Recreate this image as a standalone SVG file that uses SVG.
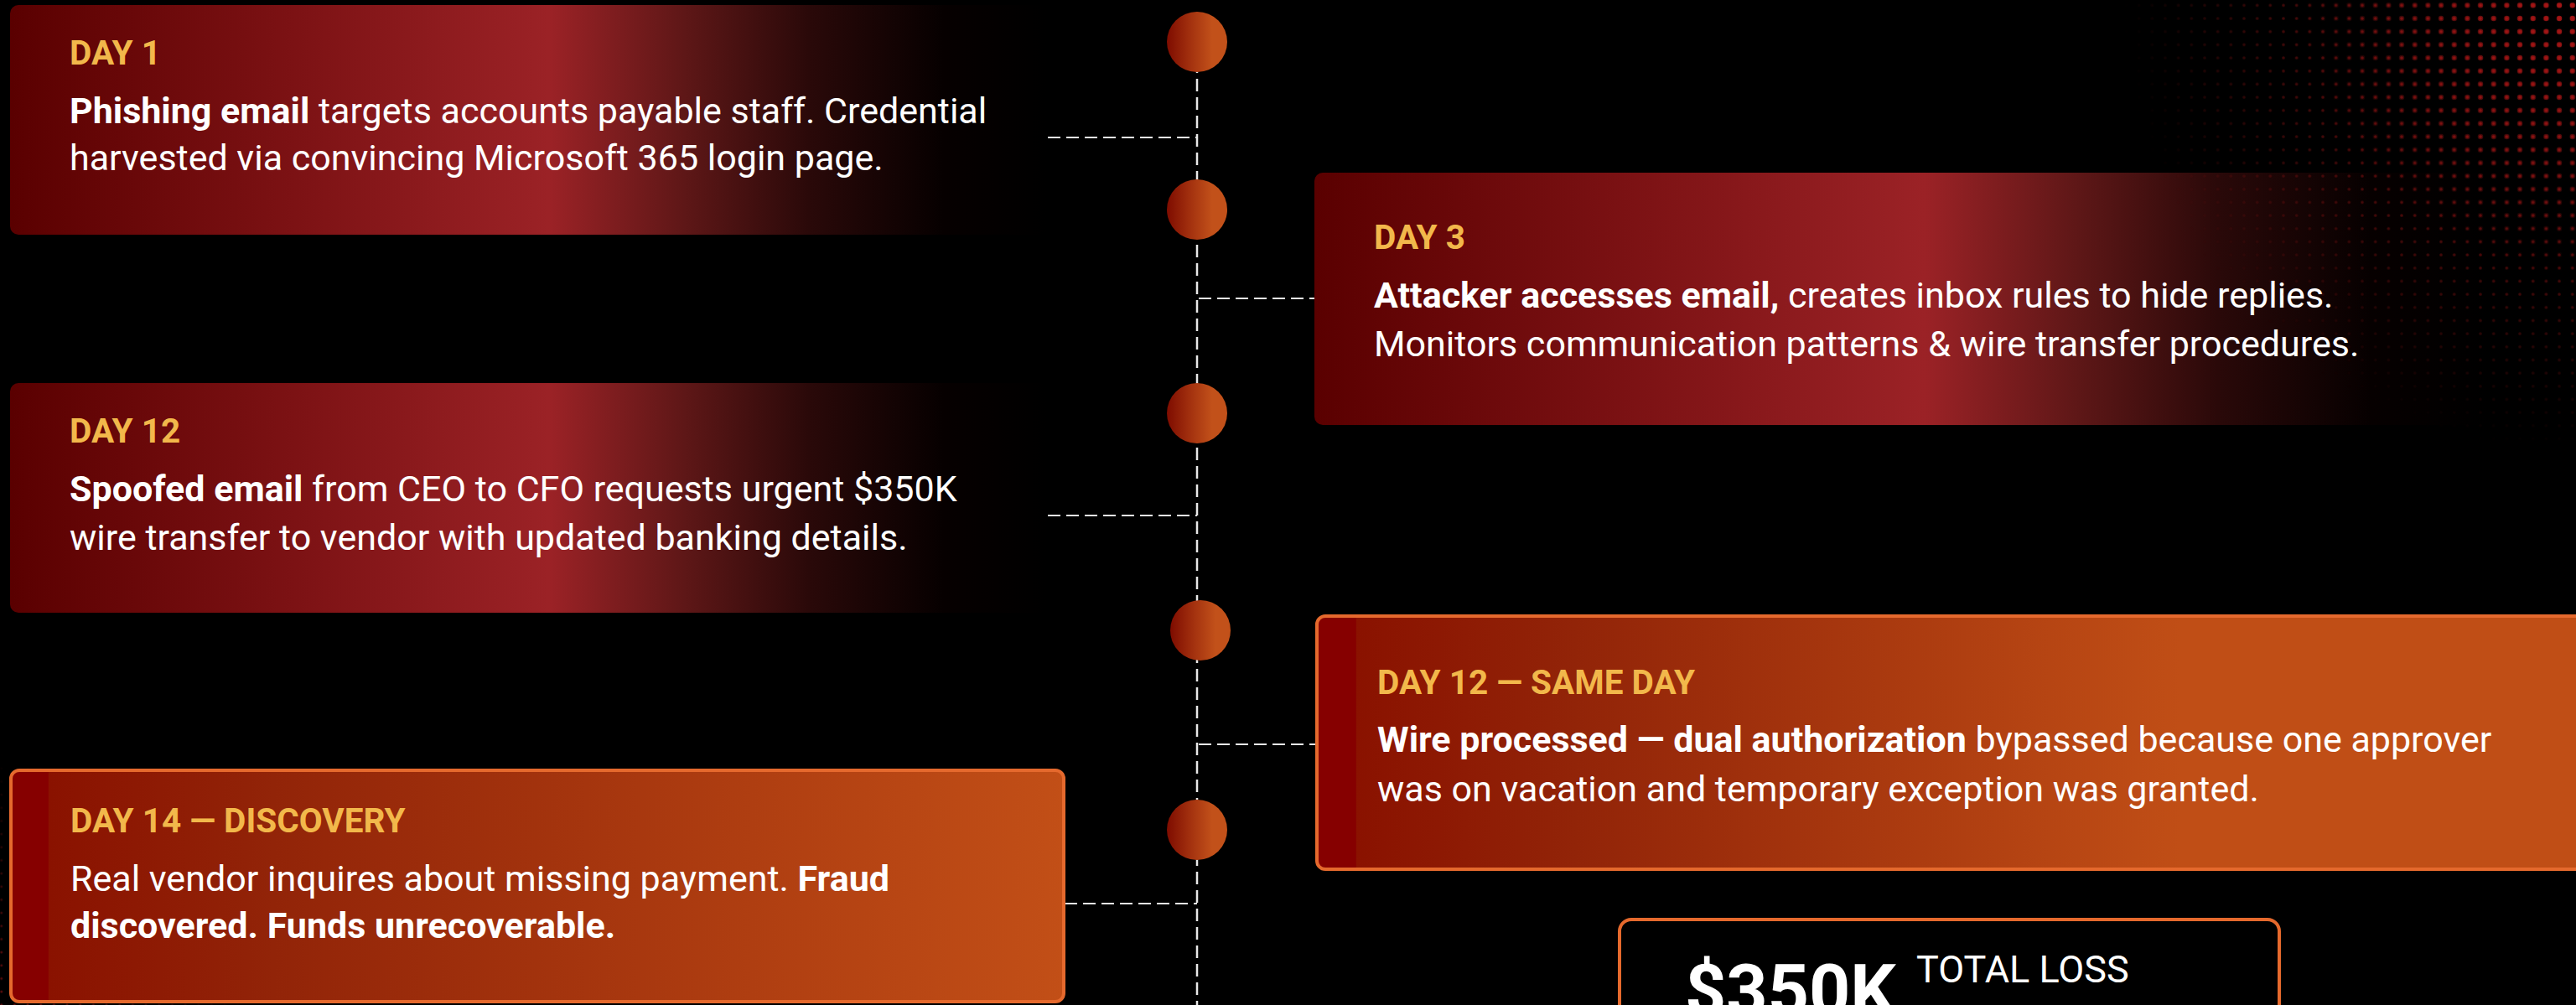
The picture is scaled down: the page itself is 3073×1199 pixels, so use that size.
<svg xmlns="http://www.w3.org/2000/svg" width="3073" height="1199" viewBox="0 0 3073 1199">
  <style>
    .label { font-family: Roboto, "Liberation Sans", sans-serif; font-weight: 700; font-size: 40.5px; fill: #f2b84b; }
    .body { font-family: Roboto, "Liberation Sans", sans-serif; font-weight: 400; font-size: 43px; fill: #ffffff; }
    .b { font-weight: 700; }
    .link { fill: none; stroke: #e8e8e8; stroke-width: 2; stroke-dasharray: 15 7; }
    .spine { fill: none; stroke: #e8e8e8; stroke-width: 2.5; stroke-dasharray: 15 7; }
    .dot { fill: url(#dotGrad); }
  </style>
  <defs>
    <!-- fading crimson card -->
    <linearGradient id="redCard" x1="0" y1="0" x2="1" y2="0">
      <stop offset="0" stop-color="#5a0000"/>
      <stop offset="0.52" stop-color="#9b2226"/>
      <stop offset="0.65" stop-color="#5e1717"/>
      <stop offset="0.77" stop-color="#2a0909"/>
      <stop offset="0.9" stop-color="#060000"/>
      <stop offset="1" stop-color="#000000"/>
    </linearGradient>
    <!-- orange highlight cards -->
    <linearGradient id="orangeRight" gradientUnits="userSpaceOnUse" x1="1571" y1="0" x2="2600" y2="0">
      <stop offset="0" stop-color="#860000"/>
      <stop offset="0.045" stop-color="#860000"/>
      <stop offset="0.046" stop-color="#8a1200"/>
      <stop offset="0.3" stop-color="#922408"/>
      <stop offset="1" stop-color="#c04e16"/>
    </linearGradient>
    <linearGradient id="orangeLeft" gradientUnits="userSpaceOnUse" x1="12" y1="0" x2="1270" y2="0">
      <stop offset="0" stop-color="#860000"/>
      <stop offset="0.036" stop-color="#860000"/>
      <stop offset="0.037" stop-color="#8a1200"/>
      <stop offset="0.25" stop-color="#922408"/>
      <stop offset="1" stop-color="#c24f17"/>
    </linearGradient>
    <linearGradient id="dotGrad" x1="0" y1="0" x2="1" y2="0">
      <stop offset="0" stop-color="#7e0c00"/>
      <stop offset="0.4" stop-color="#a4320f"/>
      <stop offset="0.75" stop-color="#c2511a"/>
      <stop offset="1" stop-color="#c2511a"/>
    </linearGradient>
    <!-- halftone dots: small everywhere, larger near the corner -->
    <pattern id="dotsTR" patternUnits="userSpaceOnUse" x="2700.5" y="-1.5" width="15.67" height="15.67">
      <circle cx="7.83" cy="7.83" r="1.8" fill="#a81616"/>
    </pattern>
    <pattern id="dotsTRbig" patternUnits="userSpaceOnUse" x="2700.5" y="-1.5" width="15.67" height="15.67">
      <circle cx="7.83" cy="7.83" r="3.2" fill="#a81616"/>
    </pattern>
    <pattern id="dotsBL" patternUnits="userSpaceOnUse" x="-6.1" y="0" width="15.67" height="15.67">
      <circle cx="7.83" cy="7.83" r="1.5" fill="#a01515"/>
    </pattern>
    <radialGradient id="fadeTR" gradientUnits="userSpaceOnUse" cx="3073" cy="0" r="540">
      <stop offset="0" stop-color="#ffffff"/>
      <stop offset="0.5" stop-color="#888888"/>
      <stop offset="1" stop-color="#000000"/>
    </radialGradient>
    <radialGradient id="fadeTRbig" gradientUnits="userSpaceOnUse" cx="3073" cy="0" r="330">
      <stop offset="0" stop-color="#ffffff"/>
      <stop offset="1" stop-color="#000000"/>
    </radialGradient>
    <radialGradient id="fadeBL" gradientUnits="userSpaceOnUse" cx="0" cy="1199" r="300">
      <stop offset="0" stop-color="#999999"/>
      <stop offset="1" stop-color="#000000"/>
    </radialGradient>
    <mask id="maskTR"><rect x="2400" y="0" width="673" height="700" fill="url(#fadeTR)"/></mask>
    <mask id="maskTRbig"><rect x="2600" y="0" width="473" height="400" fill="url(#fadeTRbig)"/></mask>
    <mask id="maskBL"><rect x="0" y="850" width="320" height="349" fill="url(#fadeBL)"/></mask>
  </defs>

  <rect x="0" y="0" width="3073" height="1199" fill="#000000"/>

  <!-- bottom-left halftone, mostly under the discovery card -->
  <rect x="0" y="850" width="320" height="349" fill="url(#dotsBL)" mask="url(#maskBL)"/>

  <!-- connectors -->
  <g id="connectors">
    <line class="spine" x1="1428" y1="50" x2="1428" y2="1199"/>
    <line class="link" x1="1250" y1="164" x2="1428" y2="164"/>
    <line class="link" x1="1430" y1="356" x2="1568" y2="356"/>
    <line class="link" x1="1250" y1="615" x2="1428" y2="615"/>
    <line class="link" x1="1430" y1="888" x2="1571" y2="888"/>
    <line class="link" x1="1270" y1="1078" x2="1428" y2="1078"/>
  </g>

  <!-- timeline markers -->
  <g id="markers">
    <circle class="dot" cx="1428" cy="50" r="36"/>
    <circle class="dot" cx="1428" cy="250" r="36"/>
    <circle class="dot" cx="1428" cy="493" r="36"/>
    <circle class="dot" cx="1432" cy="752" r="36"/>
    <circle class="dot" cx="1428" cy="990" r="36"/>
  </g>

  <g id="day1">
    <rect x="12" y="6" width="1238" height="274" rx="10" fill="url(#redCard)"/>
    <text class="label" x="83" y="77">DAY 1</text>
    <text class="body" x="83" y="147"><tspan class="b">Phishing email</tspan> targets accounts payable staff. Credential</text>
    <text class="body" x="83" y="203">harvested via convincing Microsoft 365 login page.</text>
  </g>

  <g id="day3">
    <rect x="1568" y="206" width="1400" height="301" rx="10" fill="url(#redCard)"/>
    <text class="label" x="1639" y="297">DAY 3</text>
    <text class="body" x="1639" y="367"><tspan class="b">Attacker accesses email,</tspan> creates inbox rules to hide replies.</text>
    <text class="body" x="1639" y="425">Monitors communication patterns &amp; wire transfer procedures.</text>
  </g>

  <g id="day12">
    <rect x="12" y="457" width="1238" height="274" rx="10" fill="url(#redCard)"/>
    <text class="label" x="83" y="528">DAY 12</text>
    <text class="body" x="83" y="598"><tspan class="b">Spoofed email</tspan> from CEO to CFO requests urgent $350K</text>
    <text class="body" x="83" y="656">wire transfer to vendor with updated banking details.</text>
  </g>

  <g id="day12-same-day">
    <rect x="1571" y="735" width="1530" height="302" rx="10" fill="url(#orangeRight)" stroke="#e5692d" stroke-width="4"/>
    <text class="label" x="1643" y="828">DAY 12 — SAME DAY</text>
    <text class="body" x="1643" y="897"><tspan class="b">Wire processed — dual authorization</tspan> bypassed because one approver</text>
    <text class="body" x="1643" y="956">was on vacation and temporary exception was granted.</text>
  </g>

  <g id="day14-discovery">
    <rect x="13" y="919" width="1256" height="276" rx="10" fill="url(#orangeLeft)" stroke="#e5692d" stroke-width="4"/>
    <text class="label" x="84" y="993">DAY 14 — DISCOVERY</text>
    <text class="body" x="84" y="1063">Real vendor inquires about missing payment. <tspan class="b">Fraud</tspan></text>
    <text class="body b" x="84" y="1119">discovered. Funds unrecoverable.</text>
  </g>

  <g id="total-loss">
    <rect x="1932" y="1097" width="787" height="140" rx="14" fill="#000000" stroke="#e5692d" stroke-width="4"/>
    <text x="2010" y="1211" font-family="Roboto, 'Liberation Sans', sans-serif" font-weight="700" font-size="86" fill="#ffffff">$350K</text>
    <text x="2286" y="1172" font-family="Roboto, 'Liberation Sans', sans-serif" font-weight="400" font-size="45" fill="#ffffff">TOTAL LOSS</text>
  </g>

  <!-- top-right halftone -->
  <rect x="2400" y="0" width="673" height="700" fill="url(#dotsTR)" mask="url(#maskTR)"/>
  <rect x="2600" y="0" width="473" height="400" fill="url(#dotsTRbig)" mask="url(#maskTRbig)"/>
</svg>
